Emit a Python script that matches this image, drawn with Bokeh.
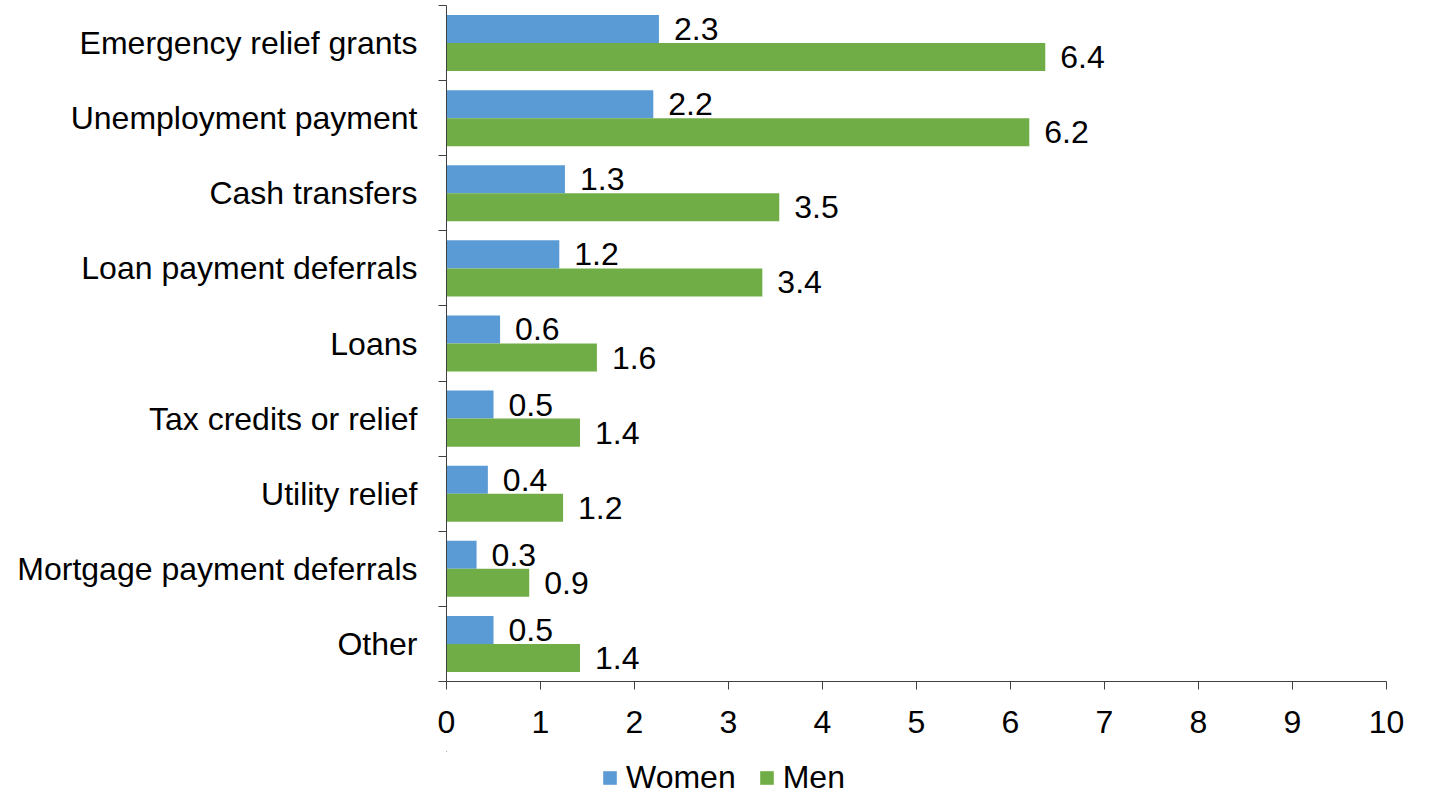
from bokeh.plotting import figure
from bokeh.layouts import column
from bokeh.models import ColumnDataSource, FixedTicker, Legend, LegendItem, Range1d
from bokeh.core.properties import value
from bokeh.embed import file_html
from bokeh.resources import INLINE

categories = ["Emergency relief grants", "Unemployment payment", "Cash transfers",
              "Loan payment deferrals", "Loans", "Tax credits or relief",
              "Utility relief", "Mortgage payment deferrals", "Other"]
series_names = ["Women", "Men"]
women = [2.26, 2.2, 1.26, 1.2, 0.57, 0.5, 0.44, 0.32, 0.5]
men = [6.37, 6.2, 3.54, 3.36, 1.6, 1.42, 1.24, 0.88, 1.42]
x_ticks = [0, 1, 2, 3, 4, 5, 6, 7, 8, 9, 10]
colors = ["#5B9BD5", "#70AD47"]

FONT = "Liberation Sans"
FS = "32px"
n = len(categories)
bar_h = 0.373
centers = [n - i - 0.5 for i in range(n)]

src_w = ColumnDataSource(dict(y=[c + bar_h / 2 for c in centers], v=women,
                              lab=[f"{v:.1f}" for v in women]))
src_m = ColumnDataSource(dict(y=[c - bar_h / 2 for c in centers], v=men,
                              lab=[f"{v:.1f}" for v in men]))
sources = [src_w, src_m]

MAIN_H = 751
p = figure(width=1432, height=MAIN_H, output_backend="svg", toolbar_location=None,
           x_range=Range1d(0, 10), y_range=Range1d(0, n),
           min_border_left=446, min_border_right=46, min_border_top=5,
           min_border_bottom=70)
p.outline_line_color = None
p.xgrid.visible = False
p.ygrid.visible = False
p.background_fill_color = "white"
p.border_fill_color = "white"

for src, col in zip(sources, colors):
    p.hbar(y="y", right="v", left=0, height=bar_h, source=src,
           fill_color=col, line_color=None)
    p.text(x="v", y="y", text="lab", source=src, x_offset=15,
           text_baseline="middle", text_align="left",
           text_font=value(FONT), text_font_size=FS, text_color="black")

axis_col = "#404040"
# x axis
p.xaxis.ticker = FixedTicker(ticks=x_ticks)
p.xaxis.axis_line_color = axis_col
p.xaxis.major_tick_line_color = axis_col
p.xaxis.major_tick_out = 8
p.xaxis.major_tick_in = 0
p.xaxis.minor_tick_line_color = None
p.xaxis.major_label_text_font = FONT
p.xaxis.major_label_text_font_size = FS
p.xaxis.major_label_text_color = "black"
p.xaxis.major_label_standoff = 21

# y axis
p.yaxis.ticker = FixedTicker(ticks=centers, minor_ticks=list(range(n + 1)))
p.yaxis.major_label_overrides = {c: cat for c, cat in zip(centers, categories)}
p.yaxis.axis_line_color = axis_col
p.yaxis.major_tick_line_color = None
p.yaxis.major_tick_out = 0
p.yaxis.major_tick_in = 0
p.yaxis.minor_tick_line_color = axis_col
p.yaxis.minor_tick_out = 8
p.yaxis.minor_tick_in = 0
p.yaxis.major_label_text_font = FONT
p.yaxis.major_label_text_font_size = FS
p.yaxis.major_label_text_color = "black"
p.yaxis.major_label_standoff = 21

# legend strip (bars drawn off-range so only the legend shows)
lg = figure(width=1432, height=792 - MAIN_H, output_backend="svg", toolbar_location=None,
            x_range=Range1d(100, 101), y_range=Range1d(-101, -100),
            x_axis_type=None, y_axis_type=None,
            min_border_left=0, min_border_right=0, min_border_top=0, min_border_bottom=0)
lg.outline_line_color = None
lg.grid.visible = False
lg.background_fill_color = "white"
lg.border_fill_color = "white"
items = []
for name, src, col in zip(series_names, sources, colors):
    r = lg.hbar(y="y", right="v", left=0, height=bar_h, source=src,
                fill_color=col, line_color=None)
    items.append(LegendItem(label=name, renderers=[r]))
legend = Legend(items=items, orientation="horizontal", location=(155, -4),
                glyph_width=17, glyph_height=17, label_standoff=8, spacing=22,
                padding=0, margin=0, border_line_color=None,
                background_fill_alpha=0,
                label_text_font=FONT, label_text_font_size=FS,
                label_text_color="black")
lg.add_layout(legend, "center")

layout = column(p, lg, spacing=0)
open("out.html", "w").write(file_html(layout, INLINE))
